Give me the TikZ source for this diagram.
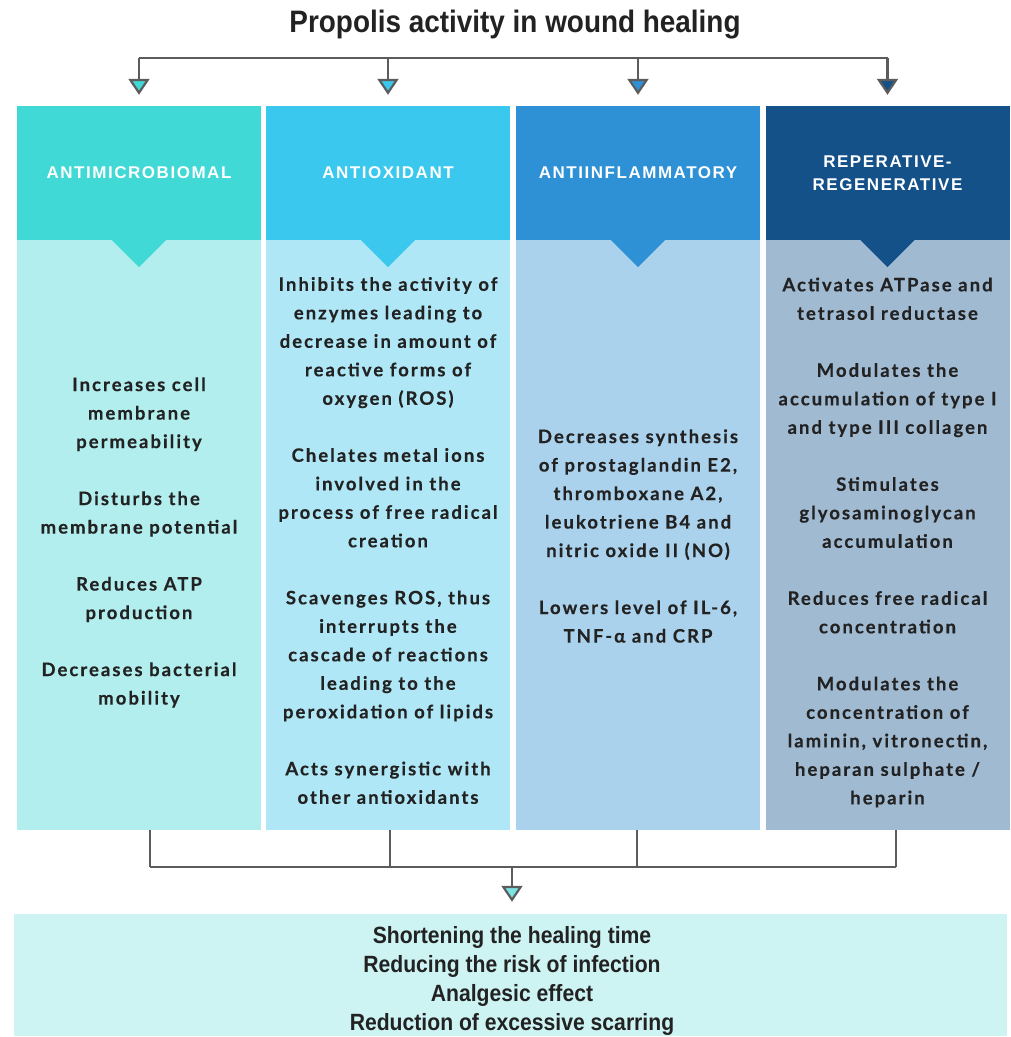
\documentclass[tikz,border=0pt]{standalone}
\usepackage{fontspec}
\setmainfont{Lato}[LetterSpace=11, BoldFeatures={FakeBold=0.4}]
\newfontfamily\titlefont{Liberation Sans}[FakeStretch=0.9]
\newfontfamily\headfont{Liberation Sans}[LetterSpace=9]
\usepackage{tikz}
\usetikzlibrary{positioning,calc,arrows.meta}
\definecolor{AmHead}{HTML}{40D9D5}
\definecolor{AmBody}{HTML}{B2EEEE}
\definecolor{AoHead}{HTML}{3AC8EF}
\definecolor{AoBody}{HTML}{AFE7F6}
\definecolor{AiHead}{HTML}{2E91D6}
\definecolor{AiBody}{HTML}{ABD2EC}
\definecolor{RgHead}{HTML}{155189}
\definecolor{RgBody}{HTML}{A0BAD2}
\definecolor{OutFill}{HTML}{CDF3F3}
\definecolor{OutTip}{HTML}{7DE2E2}
\definecolor{LinkGray}{HTML}{5C5C5C}
\definecolor{TextDark}{HTML}{222222}
\newcommand{\itemgap}{28.5pt}
\tikzset{
    headbox/.style={rectangle, minimum width=244pt, minimum height=134pt, inner sep=0pt, text=white, align=center, font=\headfont\bfseries\fontsize{17}{23}\selectfont},
    bodybox/.style={rectangle, minimum width=244pt, minimum height=590pt, inner sep=0pt},
    bodytext/.style={align=center, text=TextDark, inner sep=0pt, font=\bfseries\fontsize{18.5}{28.5}\selectfont},
    link/.style={draw=LinkGray, line width=2.2pt}
}
\begin{document}
\begin{tikzpicture}[
        x=1pt, y=-1pt,
        % Mũi tên tam giác viền xám, nền theo màu cột
        tipin/.style={-{Triangle[width=21pt, length=16pt, fill=#1]}, shorten >=11pt},
        notch/.style={fill=#1}
    ]
        \useasboundingbox (0,0) rectangle (1011,1037);

        % --- TIÊU ĐỀ ---
        \node[text=TextDark, font=\titlefont\bfseries\fontsize{31}{36}\selectfont] (title) at (515,25) {Propolis activity in wound healing};

        % --- TIÊU ĐỀ CỘT ---
        \node[headbox, fill=AmHead] (hdrA) at (139,173) {ANTIMICROBIOMAL};
        \node[headbox, fill=AoHead] (hdrB) at (388,173) {ANTIOXIDANT};
        \node[headbox, fill=AiHead] (hdrC) at (638,173) {ANTIINFLAMMATORY};
        \node[headbox, fill=RgHead] (hdrD) at (887.5,173) {REPERATIVE-\\REGENERATIVE};

        % --- THÂN CỘT ---
        \node[bodybox, fill=AmBody] (bodyA) at (139,535) {};
        \node[bodybox, fill=AoBody] (bodyB) at (388,535) {};
        \node[bodybox, fill=AiBody] (bodyC) at (638,535) {};
        \node[bodybox, fill=RgBody] (bodyD) at (887.5,535) {};

        % Tam giác nhọn dưới tiêu đề
        \fill[notch=AmHead] ($(hdrA.south)+(-27,0)$) -- ($(hdrA.south)+(27,0)$) -- ($(hdrA.south)+(0,27)$) -- cycle;
        \fill[notch=AoHead] ($(hdrB.south)+(-27,0)$) -- ($(hdrB.south)+(27,0)$) -- ($(hdrB.south)+(0,27)$) -- cycle;
        \fill[notch=AiHead] ($(hdrC.south)+(-27,0)$) -- ($(hdrC.south)+(27,0)$) -- ($(hdrC.south)+(0,27)$) -- cycle;
        \fill[notch=RgHead] ($(hdrD.south)+(-27,0)$) -- ($(hdrD.south)+(27,0)$) -- ($(hdrD.south)+(0,27)$) -- cycle;

        % --- NỘI DUNG CỘT ---
        \node[bodytext] (txtA) at (139,542.5) {Increases cell\\ membrane\\ permeability\\[\itemgap]
            Disturbs the\\ membrane potential\\[\itemgap]
            Reduces ATP\\ production\\[\itemgap]
            Decreases bacterial\\ mobility};
        \node[bodytext] (txtB) at (388,540.5) {Inhibits the activity of\\ enzymes leading to\\ decrease in amount of\\ reactive forms of\\ oxygen (ROS)\\[\itemgap]
            Chelates metal ions\\ involved in the\\ process of free radical\\ creation\\[\itemgap]
            Scavenges ROS, thus\\ interrupts the\\ cascade of reactions\\ leading to the\\ peroxidation of lipids\\[\itemgap]
            Acts synergistic with\\ other antioxidants};
        \node[bodytext] (txtC) at (638,536) {Decreases synthesis\\ of prostaglandin E2,\\ thromboxane A2,\\ leukotriene B4 and\\ nitric oxide II (NO)\\[\itemgap]
            Lowers level of IL-6,\\ TNF-α and CRP};
        \node[bodytext] (txtD) at (887.5,542.5) {Activates ATPase and\\ tetrasol reductase\\[\itemgap]
            Modulates the\\ accumulation of type I\\ and type III collagen\\[\itemgap]
            Stimulates\\ glyosaminoglycan\\ accumulation\\[\itemgap]
            Reduces free radical\\ concentration\\[\itemgap]
            Modulates the\\ concentration of\\ laminin, vitronectin,\\ heparan sulphate /\\ heparin};

        % --- MŨI TÊN TRÊN ---
        \coordinate (barA) at (139,58);
        \coordinate (barB) at (388,58);
        \coordinate (barC) at (638,58);
        \coordinate (barD) at (887.5,58);
        \draw[link] (barA) -- (barD);
        \draw[link, tipin=AmHead] (barA) -- (hdrA.north);
        \draw[link, tipin=AoHead] (barB) -- (hdrB.north);
        \draw[link, tipin=AiHead] (barC) -- (hdrC.north);
        \draw[link, tipin=RgHead] (barD) -- (hdrD.north);

        % --- HỘP KẾT QUẢ ---
        \node[fill=OutFill, minimum width=993pt, minimum height=122pt, inner sep=0pt] (outcome) at (510.5,975) {};
        \node[align=center, inner sep=0pt, text=TextDark, font=\titlefont\bfseries\fontsize{23.5}{28.7}\selectfont] (outtext) at (512,981)
            {Shortening the healing time\\ Reducing the risk of infection\\ Analgesic effect\\ Reduction of excessive scarring};

        % --- MŨI TÊN DƯỚI ---
        \coordinate (dropA) at (150,867);
        \coordinate (dropB) at (390,867);
        \coordinate (dropC) at (637,867);
        \coordinate (dropD) at (896,867);
        \coordinate (joinO) at (512,867);
        \draw[link] (bodyA.south -| dropA) -- (dropA);
        \draw[link] (bodyB.south -| dropB) -- (dropB);
        \draw[link] (bodyC.south -| dropC) -- (dropC);
        \draw[link] (bodyD.south -| dropD) -- (dropD);
        \draw[link] (dropA) -- (dropD);
        \draw[link, tipin=OutTip, shorten >=12pt] (joinO) -- (outcome.north -| joinO);
    \end{tikzpicture}
\end{document}
